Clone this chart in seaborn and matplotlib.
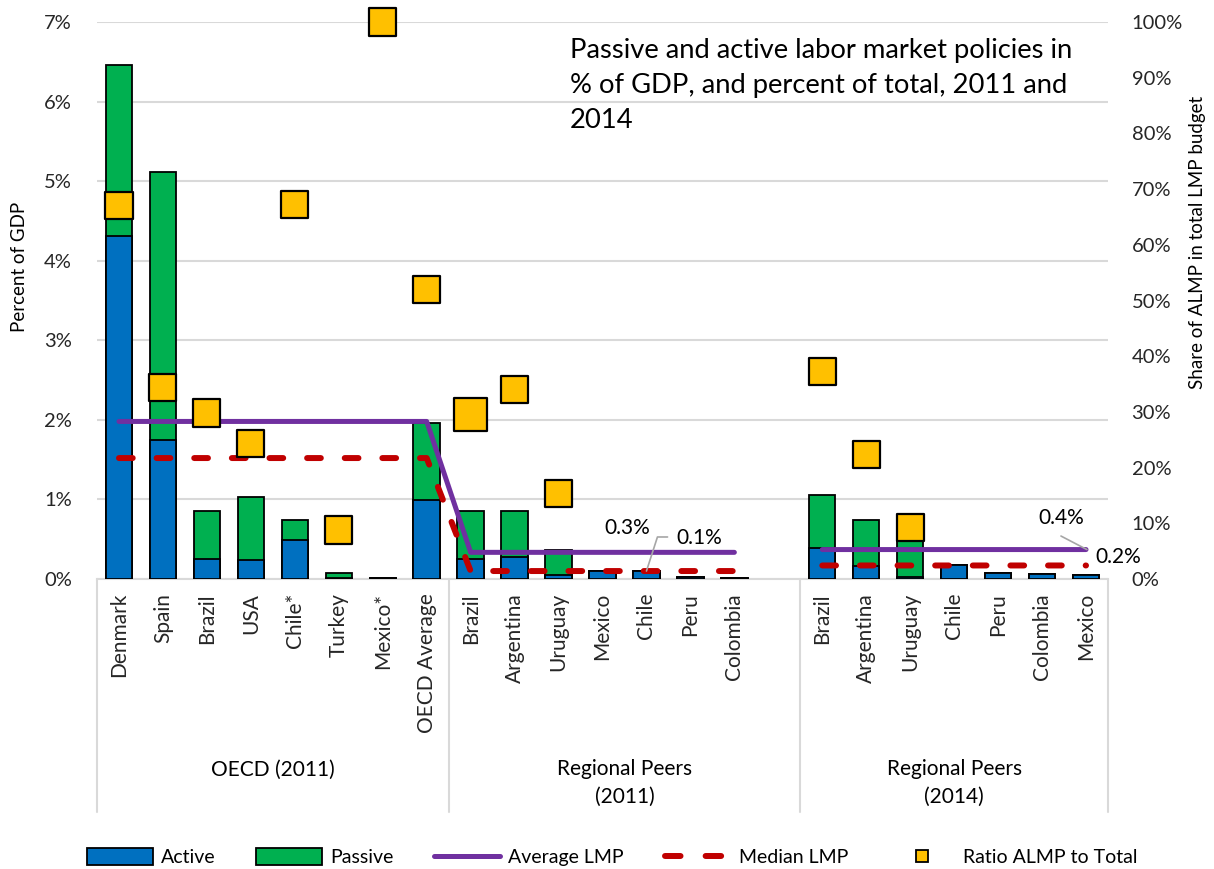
import numpy as np
import pandas as pd
import matplotlib
matplotlib.use("Agg")
import matplotlib.pyplot as plt
import matplotlib.transforms as mtransforms
from matplotlib.patches import Patch
from matplotlib.lines import Line2D
import seaborn as sns

# ---------------- data ----------------
oecd_countries = ["Denmark", "Spain", "Brazil", "USA", "Chile*", "Turkey", "Mexico*", "OECD Average"]
oecd_active = [4.31, 1.75, 0.25, 0.24, 0.49, 0.01, 0.015, 0.99]
oecd_passive = [2.15, 3.36, 0.61, 0.79, 0.25, 0.06, 0.0, 0.97]
oecd_ratio = [67.0, 34.3, 29.8, 24.4, 67.3, 8.8, 100.0, 52.0]

reg11_countries = ["Brazil", "Argentina", "Uruguay", "Mexico", "Chile", "Peru", "Colombia"]
reg11_active = [0.25, 0.28, 0.05, 0.10, 0.10, 0.03, 0.015]
reg11_passive = [0.61, 0.58, 0.32, 0.0, 0.0, 0.0, 0.0]
reg11_ratio = [29.5, 34.0, 15.4, np.nan, np.nan, np.nan, np.nan]

reg14_countries = ["Brazil", "Argentina", "Uruguay", "Chile", "Peru", "Colombia", "Mexico"]
reg14_active = [0.385, 0.165, 0.03, 0.17, 0.07, 0.06, 0.055]
reg14_passive = [0.67, 0.575, 0.45, 0.0, 0.0, 0.0, 0.0]
reg14_ratio = [37.2, 22.4, 9.2, np.nan, np.nan, np.nan, np.nan]

group_names = ["OECD (2011)", "Regional Peers\n(2011)", "Regional Peers\n(2014)"]
avg_lmp = [1.98, 0.335, 0.37]
median_lmp = [1.52, 0.10, 0.17]

left_ticks = [0, 1, 2, 3, 4, 5, 6, 7]
right_ticks = [0, 10, 20, 30, 40, 50, 60, 70, 80, 90, 100]

# ---------------- build table ----------------
rows = []
groups = [(oecd_countries, oecd_active, oecd_passive, oecd_ratio, 0),
          (reg11_countries, reg11_active, reg11_passive, reg11_ratio, 1),
          (reg14_countries, reg14_active, reg14_passive, reg14_ratio, 2)]
order = []
labels = []
for countries, act, pas, rat, g in groups:
    for c, a, p, r in zip(countries, act, pas, rat):
        sid = f"{g}|{c}"
        rows.append(dict(slot=sid, label=c, group=g, active=a, passive=p,
                         total=a + p, ratio=r, avg=avg_lmp[g], med=median_lmp[g]))
        order.append(sid)
        labels.append(c)
    if g == 1:
        order.append("gap")
        labels.append("")
df = pd.DataFrame(rows)
df["pos"] = [order.index(s) for s in df["slot"]]

BLUE = "#0070C0"
GREEN = "#00B050"
PURPLE = "#7030A0"
RED = "#C00000"
YELLOW = "#FFC000"
GRID = "#D9D9D9"

sns.set_theme(style="white")
plt.rcParams["font.family"] = ["Lato", "DejaVu Sans"]
plt.rcParams["text.color"] = "black"

fig = plt.figure(figsize=(12.14, 8.69), dpi=100)
W, H = 1214, 869
ax = fig.add_axes([97 / W, 1 - 579 / H, (1108 - 97) / W, (579 - 22) / H])

sns.barplot(data=df, x="slot", y="total", order=order, color=GREEN, saturation=1,
            edgecolor="black", linewidth=1.3, width=0.6, errorbar=None, ax=ax, zorder=3)
sns.barplot(data=df, x="slot", y="active", order=order, color=BLUE, saturation=1,
            edgecolor="black", linewidth=1.3, width=0.6, errorbar=None, ax=ax, zorder=3)

# line series (with break at gap)
n = len(order)
avg_full = np.full(n, np.nan)
med_full = np.full(n, np.nan)
avg_full[df["pos"].values] = df["avg"].values
med_full[df["pos"].values] = df["med"].values
ax.plot(np.arange(n), avg_full, color=PURPLE, lw=3.6, solid_capstyle="round",
        solid_joinstyle="round", zorder=4)
ax.plot(np.arange(n), med_full, color=RED, lw=4.3, linestyle=(0, (2.3, 4.0)),
        dash_capstyle="round", zorder=4)

ax.set_xlim(-0.5, n - 0.5)
ax.set_ylim(0, 7)
ax.set_yticks(left_ticks)
ax.set_yticklabels([f"{t}%" for t in left_ticks], fontsize=14.5)
ax.set_xticks(np.arange(n))
ax.set_xticklabels(labels, rotation=90, fontsize=15)
ax.tick_params(axis="x", length=0, pad=10)
ax.tick_params(axis="y", length=0, pad=18)
ax.set_xlabel("")
ax.set_ylabel("")
ax.grid(axis="y", color=GRID, lw=1.5, zorder=0)
ax.set_axisbelow(True)
for s in ["left", "right", "top"]:
    ax.spines[s].set_visible(False)
ax.spines["bottom"].set_color(GRID)
ax.spines["bottom"].set_linewidth(1.5)

# right axis ratio markers
ax2 = ax.twinx()
mdf = df.dropna(subset=["ratio"]).copy()
mdf["msize"] = 1.0
mdf.loc[(mdf["group"] == 1) & (mdf["label"] == "Brazil"), "msize"] = 2.0
sns.scatterplot(data=mdf, x="pos", y="ratio", size="msize", sizes=(380, 570),
                marker="s", color=YELLOW, edgecolor="black", linewidth=1.6,
                legend=False, ax=ax2, zorder=5, clip_on=False)
ax2.set_ylim(0, 100)
ax2.set_xlim(-0.5, n - 0.5)
ax2.set_yticks(right_ticks)
ax2.set_yticklabels([f"{t}%" for t in right_ticks], fontsize=14.5)
ax2.tick_params(axis="y", length=0, pad=17)
ax2.set_ylabel("")
ax2.set_xlabel("")
for s in ["left", "right", "top", "bottom"]:
    ax2.spines[s].set_visible(False)

# axis titles
fig.text(20 / W, 1 - 267 / H, "Percent of GDP", rotation=90, ha="center", va="center", fontsize=13.5)
fig.text(1197 / W, 1 - 242 / H, "Share of ALMP in total LMP budget", rotation=90,
         ha="center", va="center", fontsize=13.5)

# chart title
ax.text(570 / W, 1 - 38 / H, "Passive and active labor market policies in\n% of GDP, and percent of total, 2011 and\n2014",
        transform=fig.transFigure, ha="left", va="top", fontsize=19.7, linespacing=1.5)

# group separators & labels
trans = mtransforms.blended_transform_factory(ax.transData, ax.transAxes)
bottom_frac = -(812 - 579) / 557
for xs in [-0.5, 7.5, 15.5, n - 0.5]:
    ax.plot([xs, xs], [0, bottom_frac], transform=trans, color=GRID, lw=1.5, clip_on=False)
group_centers = [3.5, 11.5, 19.0]
group_y = [-(770 - 579) / 557, -(783 - 579) / 557, -(783 - 579) / 557]
for name, cx, gy in zip(group_names, group_centers, group_y):
    ax.text(cx, gy, name, transform=trans, ha="center", va="center", fontsize=15, linespacing=1.45)

# data labels with leader lines
ax.text(11.57, 0.64, "0.3%", ha="center", va="center", fontsize=15, zorder=6)
ax.text(13.21, 0.515, "0.1%", ha="center", va="center", fontsize=15, zorder=6)
ax.plot([12.48, 12.25, 12.0], [0.528, 0.528, 0.10], color="#A6A6A6", lw=1.2, zorder=6)
ax.text(21.43, 0.77, "0.4%", ha="center", va="center", fontsize=15, zorder=6)
ax.text(22.73, 0.28, "0.2%", ha="center", va="center", fontsize=15, zorder=6, clip_on=False)
ax.plot([21.43, 22.02], [0.54, 0.37], color="#A6A6A6", lw=1.2, zorder=6)

# legend
handles = [
    Patch(facecolor=BLUE, edgecolor="black", linewidth=1.3),
    Patch(facecolor=GREEN, edgecolor="black", linewidth=1.3),
    Line2D([0], [0], color=PURPLE, lw=3.6, solid_capstyle="round"),
    Line2D([0], [0], color=RED, lw=4.3, linestyle=(0, (2.6, 4.2)), dash_capstyle="round"),
    Line2D([0], [0], color="none", marker="s", markerfacecolor=YELLOW,
           markeredgecolor="black", markersize=9, markeredgewidth=1.3),
]
leg_labels = ["Active", "Passive", "Average LMP", "Median LMP", "Ratio ALMP to Total"]
fig.legend(handles, leg_labels, loc="center", bbox_to_anchor=(612 / W, 1 - 857 / H),
           ncol=5, frameon=False, fontsize=14, handlelength=3.4, handleheight=1.0,
           columnspacing=2.1, handletextpad=0.4)

fig.savefig("out.png", dpi=100)
